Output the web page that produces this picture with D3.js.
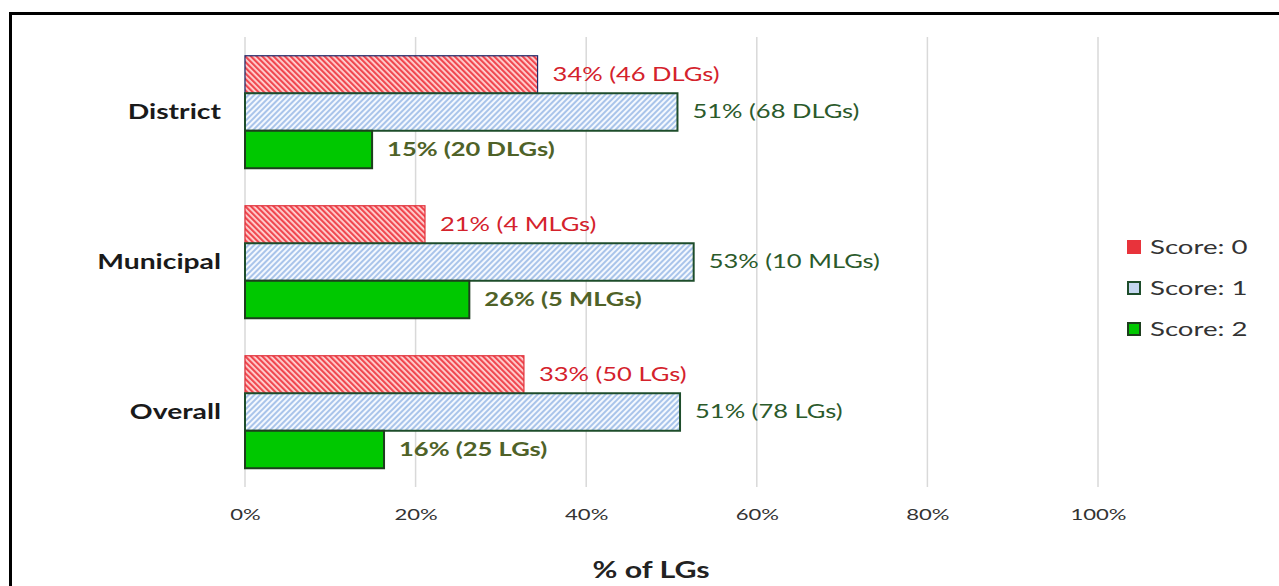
<!DOCTYPE html>
<html>
<head>
<meta charset="utf-8">
<script src="https://cdn.jsdelivr.net/npm/d3@7"></script>
<style>
  body { margin: 0; background: #fff; }
  svg { display: block; font-family: Lato, "Open Sans", sans-serif; }
</style>
</head>
<body>
<svg id="chart" width="1279" height="586"></svg>
<script>
// Data
var categories = ["District", "Municipal", "Overall"];
var seriesNames = ["Score: 0", "Score: 1", "Score: 2"];
var score0 = [34.3, 21.1, 32.7];
var score1 = [50.7, 52.6, 51.0];
var score2 = [14.9, 26.3, 16.3];
var counts0 = [46, 4, 50];
var counts1 = [68, 10, 78];
var counts2 = [20, 5, 25];
var units = ["DLGs", "MLGs", "LGs"];
var tickValues = [0, 20, 40, 60, 80, 100];

var svg = d3.select("#chart");
var sx = 1.38; // the source font is much wider than Lato

function wide(xp, yp) { return "translate(" + xp + "," + yp + ") scale(" + sx + ",1)"; }

// outer frame (cut by the page edge)
svg.append("rect")
    .attr("x", 10.5).attr("y", 13.5)
    .attr("width", 1400).attr("height", 700)
    .attr("fill", "none")
    .attr("stroke", "#000")
    .attr("stroke-width", 3);

// patterns
var defs = svg.append("defs");
var pRed = defs.append("pattern")
    .attr("id", "hatchRed")
    .attr("patternUnits", "userSpaceOnUse")
    .attr("width", 4).attr("height", 4)
    .attr("patternTransform", "rotate(-45)");
pRed.append("rect").attr("width", 4).attr("height", 4).attr("fill", "#ffd6d6");
pRed.append("rect").attr("width", 2.2).attr("height", 4).attr("fill", "#f0474f");

var pBlue = defs.append("pattern")
    .attr("id", "hatchBlue")
    .attr("patternUnits", "userSpaceOnUse")
    .attr("width", 4).attr("height", 4)
    .attr("patternTransform", "rotate(45)");
pBlue.append("rect").attr("width", 4).attr("height", 4).attr("fill", "#f4f8fe");
pBlue.append("rect").attr("width", 2).attr("height", 4).attr("fill", "#a9c4ea");

// scales
var x = d3.scaleLinear().domain([0, 100]).range([245, 1098]);

var y0 = d3.scaleBand()
    .domain(categories)
    .range([37, 487])
    .paddingInner(0.25)
    .paddingOuter(0.125);

var y1 = d3.scaleBand()
    .domain(seriesNames)
    .range([0, y0.bandwidth()])
    .padding(0);

// grid
svg.append("g")
  .selectAll("line")
  .data(tickValues)
  .enter().append("line")
    .attr("x1", function(d) { return x(d); })
    .attr("x2", function(d) { return x(d); })
    .attr("y1", 37)
    .attr("y2", 487)
    .attr("stroke", "#d9d9d9")
    .attr("stroke-width", 1.5);

// x axis labels
var xAxis = svg.append("g")
    .attr("transform", "translate(0,506)")
    .call(d3.axisBottom(x).tickValues(tickValues).tickSize(0).tickFormat(function(d) { return d + "%"; }));
xAxis.select(".domain").remove();
xAxis.selectAll("text")
    .attr("font-family", "Lato, 'Open Sans', sans-serif")
    .attr("font-size", 16)
    .attr("fill", "#333")
    .attr("transform", "scale(" + sx + ",1)");

// axis title
svg.append("text")
    .attr("transform", wide(651, 578))
    .attr("text-anchor", "middle")
    .attr("font-size", 22)
    .attr("font-weight", "bold")
    .attr("fill", "#222")
    .text("% of LGs");

// category labels
svg.append("g")
  .selectAll("text")
  .data(categories)
  .enter().append("text")
    .attr("transform", function(d) { return wide(221, y0(d) + y0.bandwidth() / 2); })
    .attr("dy", "0.35em")
    .attr("text-anchor", "end")
    .attr("font-size", 20.5)
    .attr("font-weight", "bold")
    .attr("fill", "#1a1a1a")
    .text(function(d) { return d; });

// series styles
var fills = ["url(#hatchRed)", "url(#hatchBlue)", "#00c800"];
var strokes = ["#e0303a", "#1e4d2b", "#1e3d1e"];
var strokeWidths = [1.2, 2, 2];
var labelColors = ["#d4222c", "#2b5a2b", "#4f6228"];
var labelWeights = ["normal", "normal", "bold"];

var rows = [];
categories.forEach(function(c, i) {
  [score0, score1, score2].forEach(function(s, k) {
    var cnt = [counts0, counts1, counts2][k][i];
    rows.push({
      cat: c, key: seriesNames[k], k: k, value: s[i],
      label: Math.round(s[i]) + "% (" + cnt + " " + units[i] + ")"
    });
  });
});

var groups = svg.append("g")
  .selectAll("g")
  .data(rows)
  .enter().append("g")
    .attr("transform", function(d) { return "translate(0," + (y0(d.cat) + y1(d.key)) + ")"; });

groups.append("rect")
    .attr("x", x(0))
    .attr("y", 0)
    .attr("width", function(d) { return x(d.value) - x(0); })
    .attr("height", y1.bandwidth())
    .attr("fill", function(d) { return fills[d.k]; })
    .attr("stroke", function(d) { return (d.k === 0 && d.cat === "District") ? "#1f2a6b" : strokes[d.k]; })
    .attr("stroke-width", function(d) { return strokeWidths[d.k]; });

groups.append("text")
    .attr("transform", function(d) { return wide(x(d.value) + 15, y1.bandwidth() / 2); })
    .attr("dy", "0.35em")
    .attr("font-size", 18.5)
    .attr("font-weight", function(d) { return labelWeights[d.k]; })
    .attr("fill", function(d) { return labelColors[d.k]; })
    .text(function(d) { return d.label; });

// legend
var legend = svg.append("g")
  .selectAll("g")
  .data(seriesNames)
  .enter().append("g")
    .attr("transform", function(d, i) { return "translate(1128," + (247 + i * 41) + ")"; });

legend.append("rect")
    .attr("x", 0).attr("y", -6)
    .attr("width", 12).attr("height", 12)
    .attr("fill", function(d, i) { return i === 0 ? "#e8333b" : (i === 1 ? "#c5d7f0" : fills[i]); })
    .attr("stroke", function(d, i) { return i === 0 ? "#e8333b" : strokes[i]; })
    .attr("stroke-width", 2);

legend.append("text")
    .attr("transform", wide(22, 0))
    .attr("dy", "0.35em")
    .attr("font-size", 20)
    .attr("fill", "#333")
    .text(function(d) { return d; });
</script>
</body>
</html>
